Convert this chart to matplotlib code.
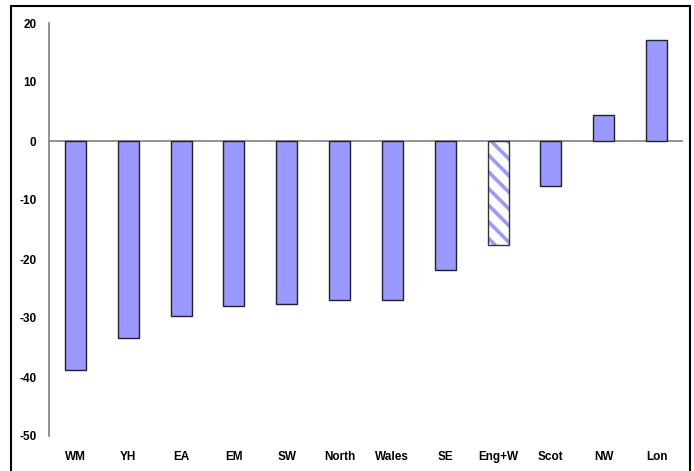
import matplotlib
matplotlib.use("Agg")
import matplotlib.pyplot as plt
from matplotlib.patches import Rectangle

regions = ["WM", "YH", "EA", "EM", "SW", "North", "Wales", "SE", "Eng+W", "Scot", "NW", "Lon"]
change = [-38.8, -33.4, -29.7, -27.9, -27.6, -27.0, -27.0, -21.9, -17.7, -7.7, 4.4, 17.2]
y_ticks = [20, 10, 0, -10, -20, -30, -40, -50]
highlight = "Eng+W"

plt.rcParams["font.family"] = ["Liberation Sans", "DejaVu Sans"]
plt.rcParams["hatch.linewidth"] = 2.6

fig = plt.figure(figsize=(6.94, 4.71), dpi=100)
ax = fig.add_axes([49 / 694, 1 - 436 / 471, (683 - 49) / 694, (436 - 23) / 471])

x = list(range(len(regions)))
for i, (name, v) in enumerate(zip(regions, change)):
    if name == highlight:
        # striped fill, then a dark outline on top
        ax.bar(i, v, width=0.4, facecolor="white", edgecolor="#9999ff",
               linewidth=0, hatch="\\\\", zorder=3)
        ax.bar(i, v, width=0.4, fill=False, edgecolor="#333333",
               linewidth=1.0, zorder=4)
    else:
        ax.bar(i, v, width=0.4, color="#9999ff", edgecolor="#222222",
               linewidth=1.0, zorder=3)

ax.axhline(0, color="#808080", linewidth=1.2, zorder=2)
ax.set_xlim(-0.5, len(regions) - 0.5)
ax.set_ylim(-50, 20)
ax.set_yticks(y_ticks)
ax.set_yticklabels([str(t) for t in y_ticks], fontsize=8.5, fontweight="bold")
ax.set_xticks(x)
ax.set_xticklabels(regions, fontsize=8.5, fontweight="bold")
ax.tick_params(axis="both", length=0)
ax.tick_params(axis="y", pad=9)
ax.tick_params(axis="x", pad=11)
for side in ["top", "right", "bottom"]:
    ax.spines[side].set_visible(False)
ax.spines["left"].set_color("#808080")
ax.spines["left"].set_linewidth(1.2)

# frame around the chart
fig.patches.append(Rectangle((10.5 / 694, -0.05), (689.5 - 10.5) / 694, 1.05 - 6 / 471,
                             transform=fig.transFigure, fill=False,
                             edgecolor="black", linewidth=1.5))

fig.savefig("out.png", dpi=100)
